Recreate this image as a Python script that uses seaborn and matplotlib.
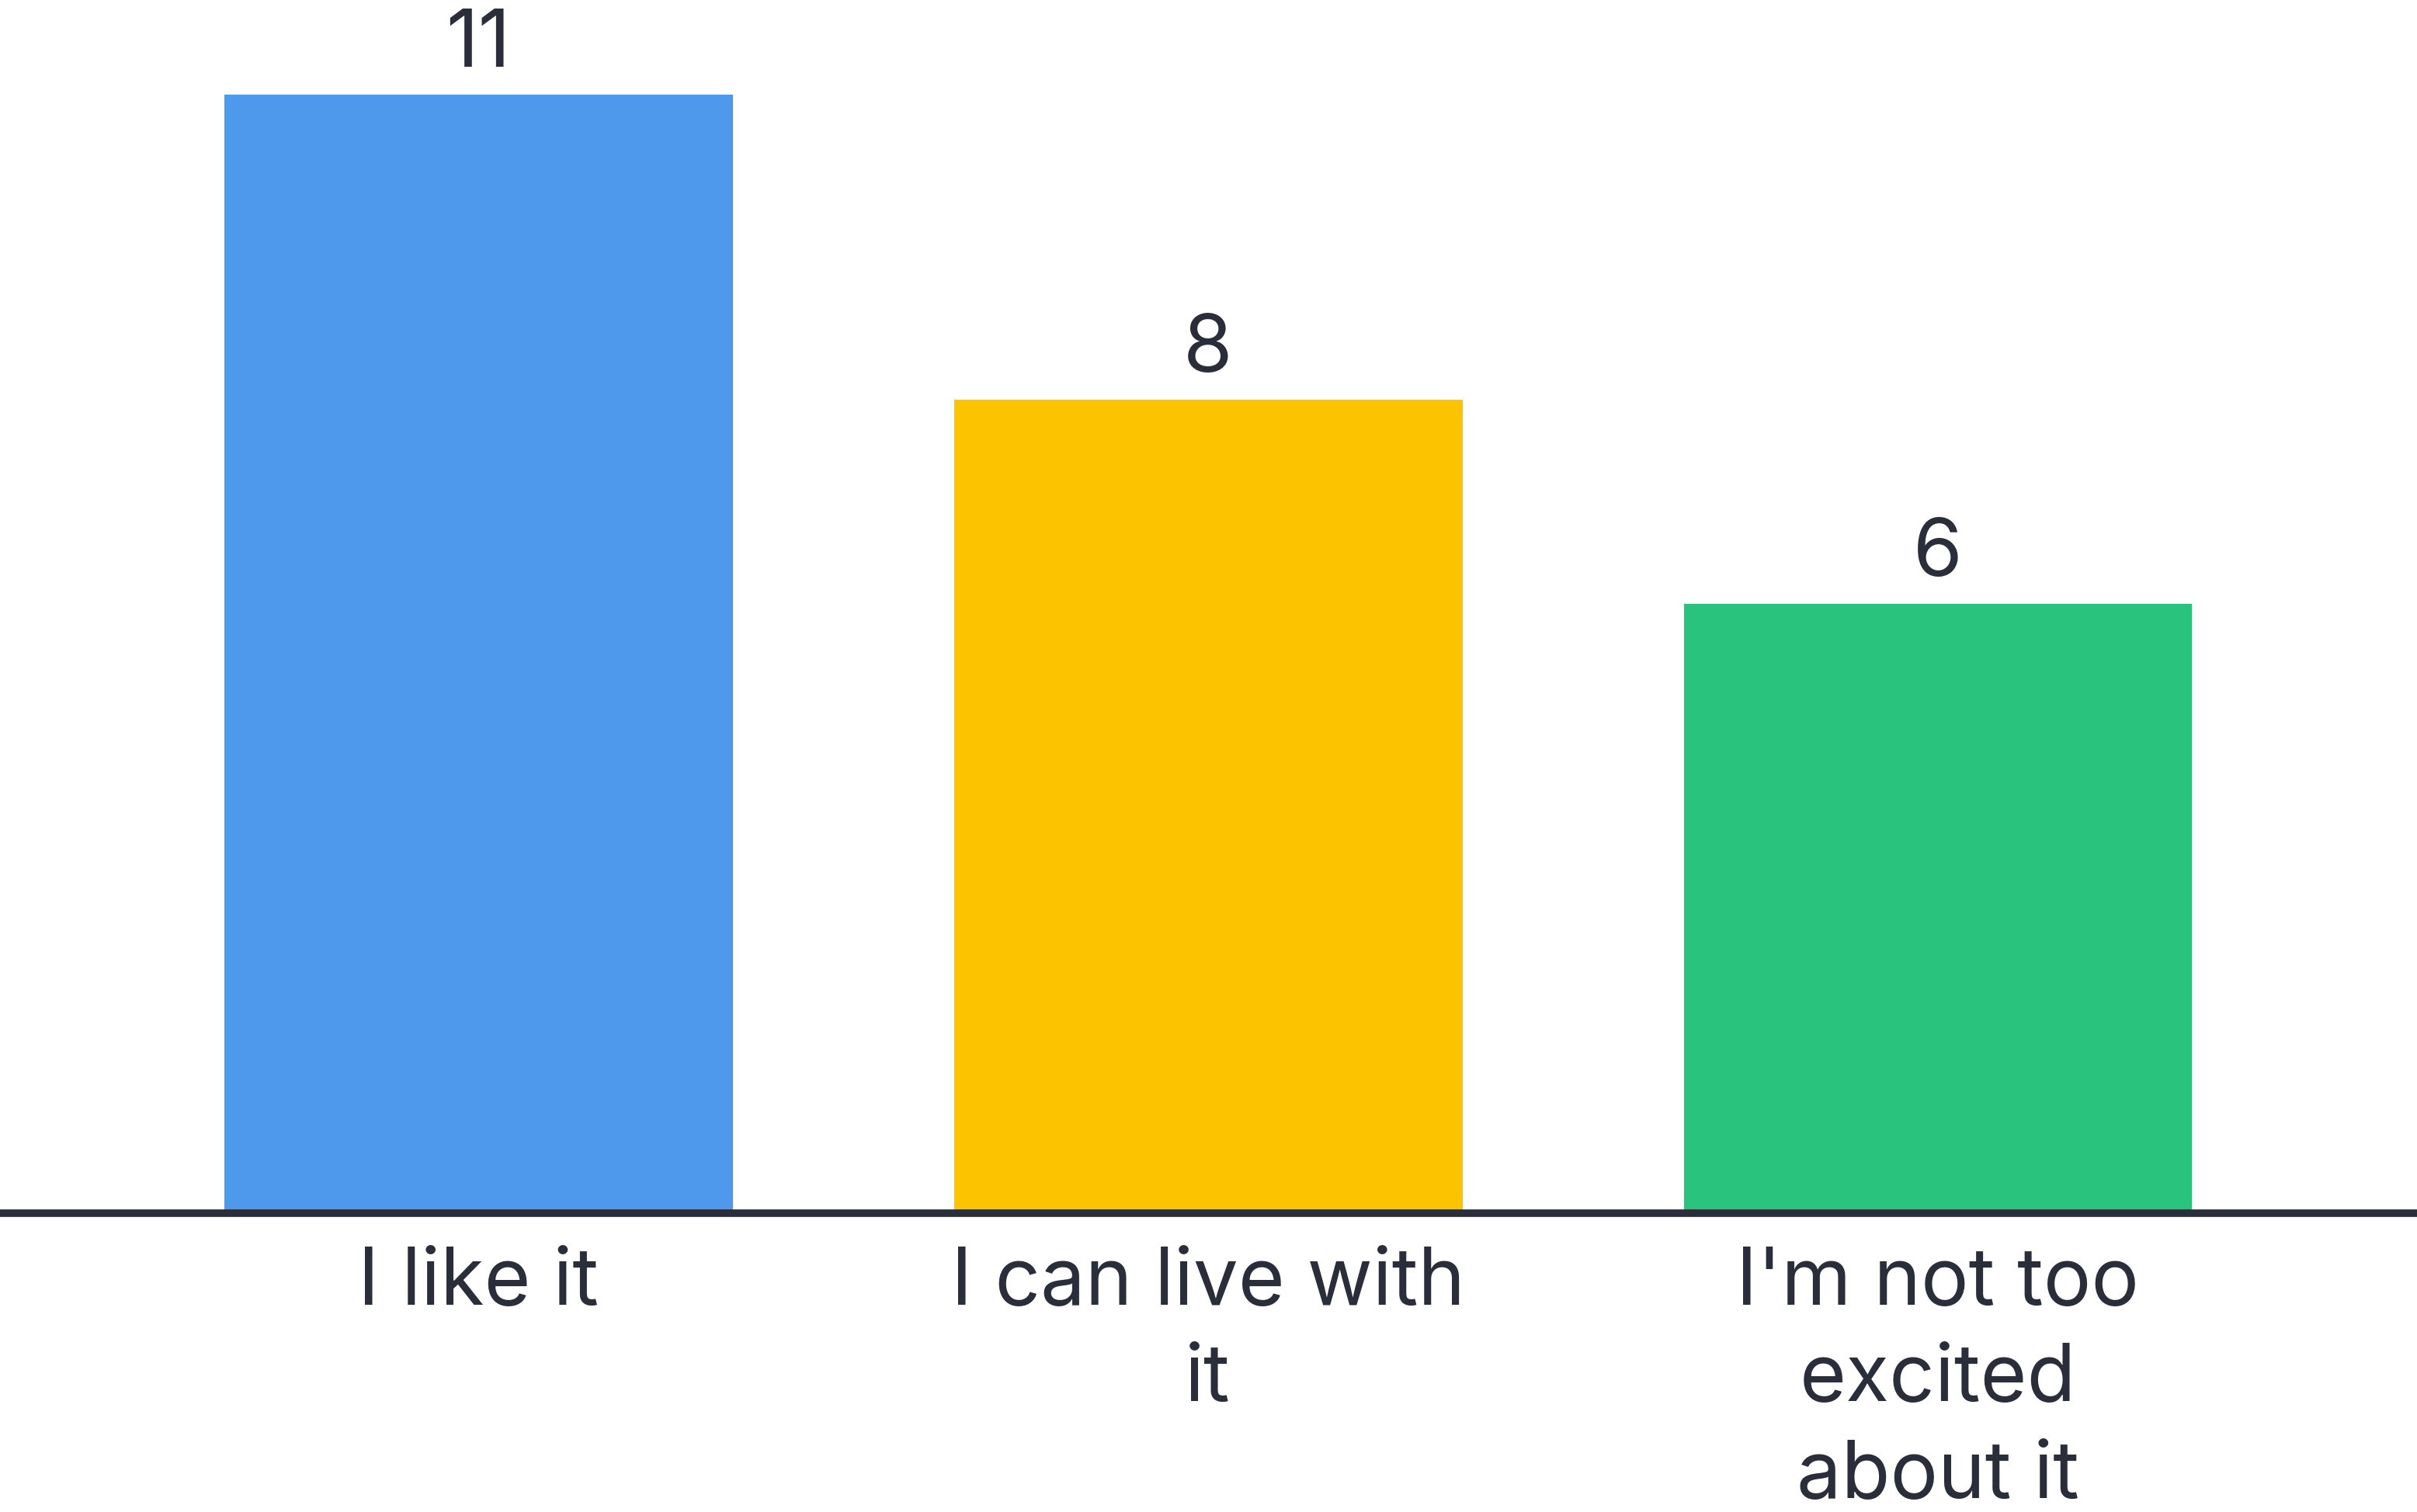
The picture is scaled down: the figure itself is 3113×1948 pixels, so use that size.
import matplotlib
matplotlib.use("Agg")
from matplotlib import pyplot as plt
import seaborn as sns
import pandas as pd

categories = ["I like it", "I can live with\nit", "I'm not too\nexcited\nabout it"]
counts = [11, 8, 6]
colors = ["#4f99ec", "#fcc400", "#29c37e"]
text_color = "#2a2e3b"

sns.set_style("white")
plt.rcParams['font.family'] = ['Inter', 'DejaVu Sans']

df = pd.DataFrame({"answer": categories, "count": counts})

fig = plt.figure(figsize=(3113 / 200, 1949 / 200), dpi=200)
ax = fig.add_axes([0, 0.1975, 1, 0.8025])
sns.barplot(data=df, x="answer", y="count", hue="answer", palette=colors,
            width=0.7, saturation=1, legend=False, ax=ax)

for container in ax.containers:
    ax.bar_label(container, fmt="%d", padding=5, fontsize=37, color=text_color)

ax.set_xlim(-0.655, 2.657)
ax.set_ylim(0, 11.92)
ax.set_xlabel("")
ax.set_ylabel("")
ax.set_yticks([])
for side in ["top", "right", "left"]:
    ax.spines[side].set_visible(False)
ax.spines["bottom"].set_color(text_color)
ax.spines["bottom"].set_linewidth(3.5)
ax.tick_params(axis="x", length=0, pad=15, labelsize=37, labelcolor=text_color)
plt.setp(ax.get_xticklabels(), linespacing=1.38)

plt.savefig("out.png", dpi=200, facecolor="white")
